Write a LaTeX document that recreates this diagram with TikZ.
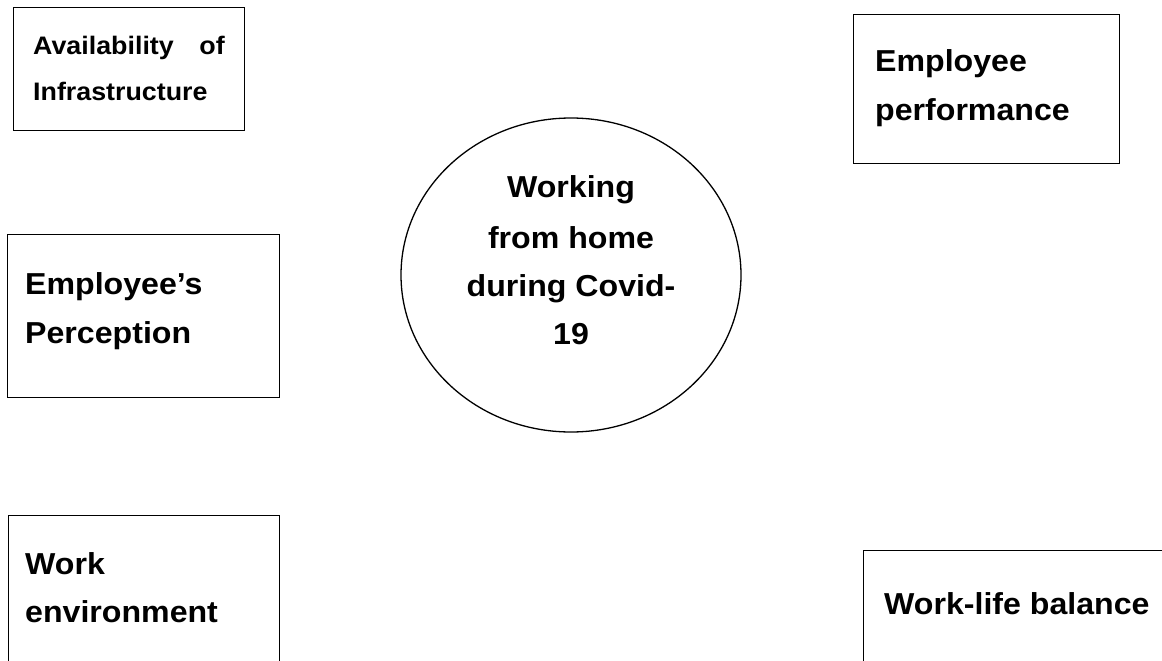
\documentclass[tikz,border=0pt]{standalone}
\usetikzlibrary{shapes.geometric}
\usepackage{fontspec}
\setmainfont{Liberation Sans}[FakeStretch=1.06]
\begin{document}
\begin{tikzpicture}[x=1pt,y=-1pt,
  box/.style={draw=black,line width=1.3pt,inner sep=0pt,anchor=north west},
  big/.style={font=\fontsize{30.3}{30.3}\selectfont\bfseries,inner sep=0pt,anchor=base west},
  small/.style={font=\fontsize{25.3}{25.3}\selectfont\bfseries,inner sep=0pt,anchor=base west},
  bigc/.style={font=\fontsize{30.3}{30.3}\selectfont\bfseries,inner sep=0pt,anchor=base}]
\useasboundingbox (0,0) rectangle (1162,661);
% boxes
\node[box,minimum width=231pt,minimum height=123pt] (avail) at (13,7) {};
\node[box,minimum width=266pt,minimum height=149pt] (perf) at (853,14) {};
\node[box,minimum width=272pt,minimum height=163pt] (perc) at (7,234) {};
\node[box,minimum width=271pt,minimum height=190pt] (env) at (8,515) {};
\node[box,minimum width=340pt,minimum height=160pt] (wlb) at (863,550) {};
\node[draw=black,line width=1.3pt,ellipse,minimum width=340pt,minimum height=314pt,inner sep=0pt] (wfh) at (571,275) {};
% texts
\node[small] (t1a) at (33,55) {Availability};
\node[small,anchor=base east] (t1b) at (225,55) {of};
\node[small] (t1c) at (33,100) {Infrastructure};
\node[big] (t2a) at (875,71) {Employee};
\node[big] (t2b) at (875,121) {performance};
\node[big] (t3a) at (25,294) {Employee’s};
\node[big] (t3b) at (25,343) {Perception};
\node[big] (t5a) at (25,574) {Work};
\node[big] (t5b) at (25,622) {environment};
\node[big] (t6) at (884,614) {Work-life balance};
\node[bigc] (c1) at (571,197) {Working};
\node[bigc] (c2) at (571,248) {from home};
\node[bigc] (c3) at (571,296) {during Covid-};
\node[bigc] (c4) at (571,344) {19};
\end{tikzpicture}
\end{document}
